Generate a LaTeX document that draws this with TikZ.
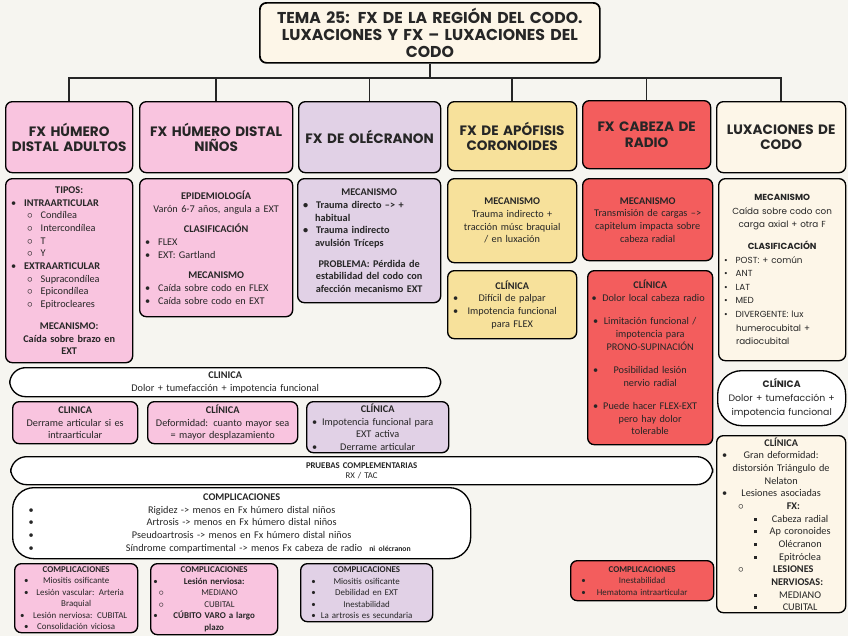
\documentclass[tikz,border=0pt]{standalone}
\usepackage{fontspec}
\setmainfont{Carlito}
\newfontfamily\headfont{Poppins}

\definecolor{papel}{HTML}{F6F5F0}
\definecolor{rosa}{HTML}{F9C4DF}
\definecolor{lila}{HTML}{E1D1E6}
\definecolor{amarillo}{HTML}{F7E19B}
\definecolor{rojo}{HTML}{F35D5D}
\definecolor{crema}{HTML}{FDF6E8}

% text sizes
\newcommand{\body}{\fontsize{7.7}{9.5}\selectfont}
\newcommand{\chico}{\fontsize{6.7}{8.6}\selectfont}
\newcommand{\head}{\headfont\bfseries\fontsize{10.2}{11.6}\selectfont}

% list lines inside the boxes
\newcommand{\lft}[1]{\makebox[\hsize][l]{#1}}
\newcommand{\bul}[1]{\lft{\hspace{2pt}\textbullet\hspace{6pt}#1}}
\newcommand{\sbul}[1]{\lft{\hspace{14pt}$\circ$\hspace{6pt}#1}}
\newcommand{\cbul}[2][2pt]{\makebox[\hsize]{\rlap{\hspace{#1}\textbullet}\hfill#2\hfill}}
\newcommand{\ci}[2][14pt]{\makebox[\hsize]{\hspace{#1}$\circ$\hfill#2\hfill}}
\newcommand{\sq}[1]{\makebox[\hsize]{\hspace{26pt}\rule[1pt]{2.4pt}{2.4pt}\hfill#1\hfill}}

\begin{document}
\begin{tikzpicture}[
    x=0.75pt, y=-0.75pt,
    box/.style={draw=black, line width=1pt, rounded corners=5pt, anchor=north west,
        inner xsep=2pt, inner ysep=1pt, align=center, font=\body, text=black!85},
    sz/.style 2 args={text width=#1, minimum height=#2},
    pinkbox/.style={box, fill=rosa},
    lilabox/.style={box, fill=lila},
    yellowbox/.style={box, fill=amarillo},
    redbox/.style={box, fill=rojo},
    creambox/.style={box, fill=crema},
    pillbox/.style={box, fill=white, rounded corners=12pt},
    headbox/.style={font=\head},
    link/.style={draw=black!85, line width=1.1pt}
]

% paper
\fill[papel] (0,0) rectangle (848,636);
\useasboundingbox (0,0) rectangle (848,636);

% Title
\node[creambox, sz={251pt}{45pt}, font=\headfont\bfseries\fontsize{11.8}{12.6}\selectfont, line width=1.3pt] (title) at (259,2)
    {TEMA 25: FX DE LA REGIÓN DEL CODO.\\ LUXACIONES Y FX – LUXACIONES DEL\\ CODO};

% Header boxes
\node[pinkbox, headbox, sz={91.25pt}{53.25pt}] (h1) at (5,101) {FX HÚMERO\\ DISTAL ADULTOS};
\node[pinkbox, headbox, sz={110.75pt}{53.25pt}] (h2) at (139,101) {FX HÚMERO DISTAL\\ NIÑOS};
\node[lilabox, headbox, sz={102.5pt}{53.25pt}] (h3) at (298,101) {FX DE OLÉCRANON};
\node[yellowbox, headbox, sz={92.75pt}{51.75pt}] (h4) at (447,101) {FX DE APÓFISIS\\ CORONOIDES};
\node[redbox, headbox, sz={92pt}{51pt}] (h5) at (582,100) {FX CABEZA DE\\ RADIO\\[12pt]};
\node[creambox, headbox, sz={92.75pt}{53.25pt}] (h6) at (716,101) {LUXACIONES DE\\ CODO};

% Tree from title to headers
\coordinate (busy) at (0,78);
\draw[link] (title.south) -- (title.south |- busy);
\foreach \h in {h1,h2,h3,h4,h5,h6}
    \draw[link] (title.south |- busy) -| (\h.north);

% Humero distal adultos
\node[pinkbox, sz={91.25pt}{138pt}] (tipos) at (5,178) {%
    \textbf{TIPOS:}\\
    \bul{\textbf{INTRAARTICULAR}}\\
    \sbul{Condílea}\\
    \sbul{Intercondílea}\\
    \sbul{T}\\
    \sbul{Y}\\
    \bul{\textbf{EXTRAARTICULAR}}\\
    \sbul{Supracondílea}\\
    \sbul{Epicondílea}\\
    \sbul{Epitrocleares}\\[7pt]
    \textbf{MECANISMO:}\\
    \textbf{Caída sobre brazo en}\\
    \textbf{EXT}};

% Humero distal ninos
\node[pinkbox, sz={110.75pt}{103.5pt}] (epid) at (139,178) {%
    \textbf{EPIDEMIOLOGÍA}\\
    Varón 6-7 años, angula a EXT\\[6pt]
    \textbf{CLASIFICACIÓN}\\
    \bul{FLEX}\\
    \bul{EXT: Gartland}\\[6pt]
    \textbf{MECANISMO}\\
    \bul{Caída sobre codo en FLEX}\\
    \bul{Caída sobre codo en EXT}};

% Olecranon
\node[lilabox, sz={103.25pt}{93pt}, font=\body\bfseries] (mecole) at (297,178) {%
    MECANISMO\\
    \bul{Trauma directo –> +}\\
    \lft{\hspace{11pt}habitual}\\
    \bul{Trauma indirecto}\\
    \lft{\hspace{11pt}avulsión Tríceps}\\[6pt]
    PROBLEMA: Pérdida de\\
    estabilidad del codo con\\
    afección mecanismo EXT};

% Coronoides
\node[yellowbox, sz={92.75pt}{63pt}] (meccor) at (447,178) {%
    \textbf{MECANISMO}\\
    Trauma indirecto +\\
    tracción músc braquial\\
    / en luxación};
\node[yellowbox, sz={92.75pt}{51pt}] (clicor) at (447,270) {%
    \textbf{CLÍNICA}\\
    \cbul{Difícil de palpar}\\
    \cbul{Impotencia funcional}\\
    para FLEX\\[8pt]};

% Cabeza de radio
\node[redbox, sz={93.5pt}{61.5pt}] (mecrad) at (582,178) {%
    \textbf{MECANISMO}\\
    Transmisión de cargas –>\\
    capitelum impacta sobre\\
    cabeza radial\\[6pt]};
\node[redbox, sz={89.75pt}{130.5pt}] (clirad) at (587,270) {%
    \textbf{CLÍNICA}\\
    \cbul[1pt]{\hspace{5pt}Dolor local cabeza radio}\\[8pt]
    \cbul{Limitación funcional /}\\
    impotencia para\\
    PRONO-SUPINACIÓN\\[8pt]
    \cbul{Posibilidad lesión}\\
    nervio radial\\[8pt]
    \cbul{Puede hacer FLEX-EXT}\\
    pero hay dolor\\
    tolerable};

% Luxaciones
\node[creambox, sz={91.25pt}{136.5pt}, font=\headfont\fontsize{6.6}{10.2}\selectfont] (meclux) at (718,178) {%
    \textbf{MECANISMO}\\
    Caída sobre codo con\\
    carga axial + otra F\\[6pt]
    \textbf{CLASIFICACIÓN}\\
    \bul{POST: + común}\\
    \bul{ANT}\\
    \bul{LAT}\\
    \bul{MED}\\
    \bul{DIVERGENTE: lux}\\
    \lft{\hspace{11pt}humerocubital +}\\
    \lft{\hspace{11pt}radiocubital}};
\node[pillbox, rounded corners=18pt, sz={92pt}{41.25pt}, font=\headfont\fontsize{7}{10.4}\selectfont] (clilux) at (717,370) {%
    \textbf{CLÍNICA}\\
    Dolor + tumefacción +\\
    impotencia funcional};
\node[creambox, sz={92.75pt}{132.75pt}] (lesion) at (716,435) {%
    \textbf{CLÍNICA}\\
    \cbul{Gran deformidad:}\\
    distorsión Triángulo de\\
    Nelaton\\
    \cbul{Lesiones asociadas}\\
    \ci{\textbf{FX:}}\\
    \sq{Cabeza radial}\\
    \sq{Ap coronoides}\\
    \sq{Olécranon}\\
    \sq{Epitróclea}\\
    \ci{\textbf{LESIONES}}\\
    \makebox[\hsize]{\hspace{24pt}\hfill\textbf{NERVIOSAS:}\hfill}\\
    \sq{MEDIANO}\\
    \sq{CUBITAL}};

% Clinica shared row
\node[pillbox, sz={319.25pt}{21.75pt}] (cligen) at (9,367) {%
    \textbf{CLINICA}\\
    Dolor + tumefacción + impotencia funcional};
\node[pinkbox, sz={89.75pt}{31.5pt}] (cliad) at (12,401) {%
    \textbf{CLINICA}\\
    Derrame articular si es\\
    intraarticular};
\node[pinkbox, sz={108.5pt}{31.5pt}] (clinin) at (147,401) {%
    \textbf{CLÍNICA}\\
    Deformidad: cuanto mayor sea\\
    = mayor desplazamiento\\[3pt]};
\node[lilabox, sz={102.5pt}{38.25pt}] (cliole) at (306,401) {%
    \textbf{CLÍNICA}\\
    \cbul{Impotencia funcional para}\\
    EXT activa\\
    \cbul{Derrame articular}};

% Pruebas complementarias
\node[pillbox, sz={522.5pt}{21pt}, font=\fontsize{6.6}{8}\selectfont] (pruebas) at (10,456) {%
    \textbf{PRUEBAS COMPLEMENTARIAS}\\
    RX / TAC};

% Complicaciones
\node[pillbox, rounded corners=16pt, sz={339.5pt}{53.25pt}] (compl) at (12,487) {%
    \textbf{COMPLICACIONES}\\
    \cbul[10pt]{Rigidez -> menos en Fx húmero distal niños}\\
    \cbul[10pt]{Artrosis -> menos en Fx húmero distal niños}\\
    \cbul[10pt]{Pseudoartrosis -> menos en Fx húmero distal niños}\\
    \cbul[10pt]{\hspace{40pt}Síndrome compartimental -> menos Fx cabeza de radio\ \ {\fontsize{5.8}{7}\selectfont\bfseries ni olécranon}}};
\node[pinkbox, sz={88.25pt}{51.75pt}, font=\chico] (compad) at (14,563) {%
    \textbf{COMPLICACIONES}\\
    \cbul[5pt]{Miositis osificante}\\
    \cbul[5pt]{\hspace{6pt}Lesión vascular: Arteria}\\
    Braquial\\
    \cbul[2pt]{\hspace{6pt}Lesión nerviosa: CUBITAL}\\
    \cbul[5pt]{Consolidación viciosa}};
\node[pinkbox, sz={91.25pt}{53.25pt}, font=\chico] (compnin) at (150,563) {%
    \textbf{COMPLICACIONES}\\
    \cbul[0pt]{\textbf{Lesión nerviosa:}}\\
    \ci[4pt]{MEDIANO}\\
    \ci[4pt]{CUBITAL}\\
    \cbul[0pt]{\textbf{CÚBITO VARO a largo}}\\
    \textbf{plazo}};
\node[lilabox, sz={95pt}{43.5pt}, font=\chico] (compole) at (300,563) {%
    \textbf{COMPLICACIONES}\\
    \cbul[6pt]{Miositis osificante}\\
    \cbul[6pt]{Debilidad en EXT}\\
    \cbul[6pt]{Inestabilidad}\\
    \cbul[6pt]{La artrosis es secundaria}};
\node[redbox, sz={103.25pt}{30pt}, font=\chico] (comprad) at (570,560) {%
    \textbf{COMPLICACIONES}\\
    \cbul[6pt]{Inestabilidad}\\
    \cbul[6pt]{Hematoma intraarticular}};

\end{tikzpicture}
\end{document}
